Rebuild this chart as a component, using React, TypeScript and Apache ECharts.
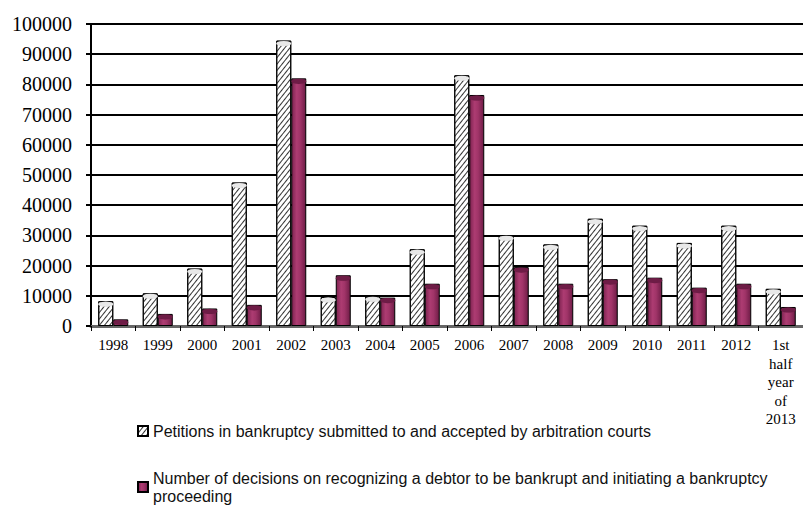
import React, { useEffect, useRef } from "react";
import * as echarts from "echarts";

const categories = ["1998", "1999", "2000", "2001", "2002", "2003", "2004", "2005", "2006", "2007", "2008", "2009", "2010", "2011", "2012", "1st half year of 2013"];
const petitions = [8200, 10800, 19000, 47500, 94500, 9600, 9800, 25400, 83000, 30000, 27000, 35500, 33200, 27500, 33200, 12300];
const decisions = [2200, 4000, 5800, 7000, 82000, 16800, 9400, 14000, 76500, 19500, 14000, 15500, 16000, 12700, 14000, 6300];
const seriesNames = [
  "Petitions in bankruptcy submitted to and accepted by arbitration courts",
  "Number of decisions on recognizing a debtor to be bankrupt and initiating a bankruptcy proceeding",
];
const yTicks = [0, 10000, 20000, 30000, 40000, 50000, 60000, 70000, 80000, 90000, 100000];

const SERIF = "'Liberation Serif', 'Times New Roman', serif";
const SANS = "'Liberation Sans', Arial, sans-serif";

export default function App() {
  const ref = useRef<HTMLDivElement>(null);
  useEffect(() => {
    document.body.style.margin = "0";
    const chart = echarts.init(ref.current!, null, { renderer: "svg" });
    const hatch = {
      symbol: "rect",
      symbolSize: 1,
      color: "#333",
      backgroundColor: "#fff",
      dashArrayX: [[1, 0]],
      dashArrayY: [1, 3],
      rotation: -Math.PI / 3.5,
    };
    const pinkGrad = new echarts.graphic.LinearGradient(0, 0, 1, 0, [
      { offset: 0, color: "#7d2350" },
      { offset: 0.35, color: "#ad3c72" },
      { offset: 0.6, color: "#a03468" },
      { offset: 1, color: "#6e1c46" },
    ]);
    chart.setOption({
      animation: false,
      grid: { left: 91, top: 24, width: 718, height: 302, containLabel: false },
      legend: [
        {
          data: [seriesNames[0]],
          left: 132,
          top: 417,
          itemWidth: 10,
          itemHeight: 10,
          icon: "rect",
          selectedMode: false,
          textStyle: { fontFamily: SANS, fontSize: 16, color: "#111", lineHeight: 18 },
        },
        {
          data: [seriesNames[1]],
          left: 132,
          top: 455,
          itemWidth: 10,
          itemHeight: 10,
          icon: "rect",
          selectedMode: false,
          formatter: (n: string) => n.replace(" proceeding", "\nproceeding"),
          textStyle: { fontFamily: SANS, fontSize: 16, color: "#111", lineHeight: 18, padding: [18, 0, 0, 0] },
        },
      ],
      xAxis: {
        type: "category",
        data: categories,
        axisLine: { lineStyle: { color: "#666", width: 3 } },
        axisTick: { show: true, length: 5, lineStyle: { color: "#000", width: 1 } },
        axisLabel: {
          interval: 0,
          margin: 10,
          fontFamily: SERIF,
          fontSize: 15,
          color: "#000",
          lineHeight: 18.5,
          formatter: (v: string) => (v.length > 4 ? v.split(" ").join("\n") : v),
        },
      },
      yAxis: {
        type: "value",
        min: 0,
        max: 100000,
        interval: 10000,
        axisLine: { show: true, lineStyle: { color: "#000", width: 2 } },
        axisTick: { show: true, length: 5, lineStyle: { color: "#000", width: 2 } },
        splitLine: { lineStyle: { color: "#000", width: 2 } },
        axisLabel: {
          margin: 19,
          fontFamily: SERIF,
          fontSize: 20,
          color: "#000",
          formatter: (v: number) => (yTicks.includes(v) ? String(v) : ""),
        },
      },
      series: [
        {
          name: seriesNames[0],
          type: "bar",
          data: petitions,
          barWidth: 15,
          barGap: "0%",
          itemStyle: { color: "#fff", borderColor: "#000", borderWidth: 1, decal: hatch },
          z: 3,
        },
        {
          name: seriesNames[1],
          type: "bar",
          data: decisions,
          barWidth: 15,
          barGap: "0%",
          itemStyle: { color: pinkGrad, borderColor: "#000", borderWidth: 1 },
          z: 3,
        },
        {
          type: "pictorialBar",
          data: petitions,
          barWidth: 15,
          barGap: "0%",
          symbol: "circle",
          symbolSize: [15, 5],
          symbolPosition: "end",
          symbolOffset: [0, 0],
          itemStyle: { color: "#e8e8e8", borderColor: "#000", borderWidth: 1.5 },
          z: 5,
          silent: true,
        },
        {
          type: "pictorialBar",
          data: decisions,
          barWidth: 15,
          barGap: "0%",
          symbol: "circle",
          symbolSize: [15, 5],
          symbolPosition: "end",
          symbolOffset: [0, 0],
          itemStyle: { color: "#6e1c46", borderColor: "#000", borderWidth: 1.5 },
          z: 5,
          silent: true,
        },
      ],
    });
    return () => chart.dispose();
  }, []);
  return <div ref={ref} style={{ width: 803, height: 509 }} />;
}
